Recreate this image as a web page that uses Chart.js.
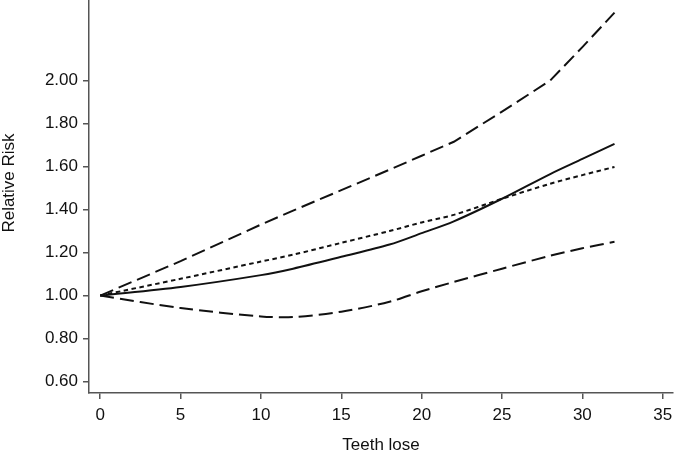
<!DOCTYPE html>
<html>
<head>
<meta charset="utf-8">
<script src="https://cdn.jsdelivr.net/npm/chart.js@4/dist/chart.umd.min.js"></script>
<style>
  html, body { margin: 0; padding: 0; background: #fff; }
  #wrap { width: 675px; height: 457px; }
</style>
</head>
<body>
<div id="wrap"><canvas id="rr_chart"></canvas></div>
<script>
// Teeth lost (x) and the curves
var teeth = [0, 5, 10, 12, 15, 18, 20, 22, 25, 28, 30, 32];
var upperCI = [1.00, 1.16, 1.33, 1.395, 1.49, 1.585, 1.65, 1.715, 1.855, 2.00, 2.155, 2.315];
var estimate = [1.00, 1.04, 1.095, 1.125, 1.18, 1.237, 1.29, 1.345, 1.45, 1.565, 1.635, 1.705];
var linear = [1.00, 1.078, 1.158, 1.19, 1.245, 1.30, 1.34, 1.375, 1.45, 1.52, 1.56, 1.598];
var lowerCI = [1.00, 0.942, 0.903, 0.90, 0.925, 0.971, 1.02, 1.063, 1.125, 1.185, 1.22, 1.25];

var xTicks = [0, 5, 10, 15, 20, 25, 30, 35];
var yTicks = [0.6, 0.8, 1.0, 1.2, 1.4, 1.6, 1.8, 2.0];

var axisColor = '#555';
var lineColor = '#111';
var fontFamily = 'Arial, "Liberation Sans", sans-serif';

function toPoints(ys) {
    return teeth.map(function (t, i) { return { x: t, y: ys[i] }; });
}

// y title drawn by hand so it can sit a bit above the middle, like the original
var yTitlePlugin = {
    id: 'yTitle',
    afterDraw: function (chart) {
        var c = chart.ctx;
        c.save();
        c.translate(9, 183);
        c.rotate(-Math.PI / 2);
        c.fillStyle = '#111';
        c.font = '17px ' + fontFamily;
        c.textAlign = 'center';
        c.textBaseline = 'middle';
        c.fillText('Relative Risk', 0, 0);
        c.restore();
    }
};

var ctx = document.getElementById('rr_chart');
var chart = new Chart(ctx, {
    type: 'line',
    data: {
        datasets: [{
            label: 'Upper 95% CI',
            data: toPoints(upperCI),
            borderColor: lineColor,
            borderWidth: 2,
            borderDash: [14, 6],
            tension: 0,
            pointRadius: 0,
            fill: false
        }, {
            label: 'Relative risk',
            data: toPoints(estimate),
            borderColor: lineColor,
            borderWidth: 2,
            tension: 0.3,
            pointRadius: 0,
            fill: false
        }, {
            label: 'Linear trend',
            data: toPoints(linear),
            borderColor: lineColor,
            borderWidth: 2,
            borderDash: [4.5, 3.5],
            tension: 0.3,
            pointRadius: 0,
            fill: false
        }, {
            label: 'Lower 95% CI',
            data: toPoints(lowerCI),
            borderColor: lineColor,
            borderWidth: 2,
            borderDash: [14, 6],
            tension: 0.3,
            pointRadius: 0,
            fill: false
        }]
    },
    options: {
        responsive: true,
        maintainAspectRatio: false,
        animation: false,
        layout: { padding: { left: 0, right: 2, top: 0, bottom: 0 } },
        plugins: {
            legend: { display: false },
            tooltip: { enabled: false }
        },
        scales: {
            x: {
                type: 'linear',
                min: -0.7,
                max: 35.64,
                afterBuildTicks: function (scale) {
                    scale.ticks = xTicks.map(function (v) { return { value: v }; });
                },
                afterFit: function (scale) {
                    scale.height = 64;
                    scale.paddingLeft = 0;
                    scale.paddingRight = 0;
                },
                border: { display: true, color: axisColor, width: 1.5 },
                grid: { drawOnChartArea: false, drawTicks: true, tickLength: 6, color: axisColor, lineWidth: 1.5 },
                ticks: {
                    color: '#111',
                    padding: 6,
                    maxRotation: 0,
                    font: { family: fontFamily, size: 17 }
                },
                title: {
                    display: true,
                    text: 'Teeth lose',
                    color: '#111',
                    padding: { top: 0, bottom: 1 },
                    font: { family: fontFamily, size: 17 }
                }
            },
            y: {
                type: 'linear',
                min: 0.547,
                max: 2.374,
                afterBuildTicks: function (scale) {
                    scale.ticks = yTicks.map(function (v) { return { value: v }; });
                },
                afterFit: function (scale) {
                    scale.width = 89;
                    scale.paddingTop = 0;
                    scale.paddingBottom = 0;
                },
                border: { display: true, color: axisColor, width: 1.5 },
                grid: { drawOnChartArea: false, drawTicks: true, tickLength: 6, color: axisColor, lineWidth: 1.5 },
                ticks: {
                    color: '#111',
                    padding: 5,
                    font: { family: fontFamily, size: 17 },
                    callback: function (v) { return Number(v).toFixed(2); }
                }
            }
        }
    },
    plugins: [yTitlePlugin]
});
</script>
</body>
</html>
